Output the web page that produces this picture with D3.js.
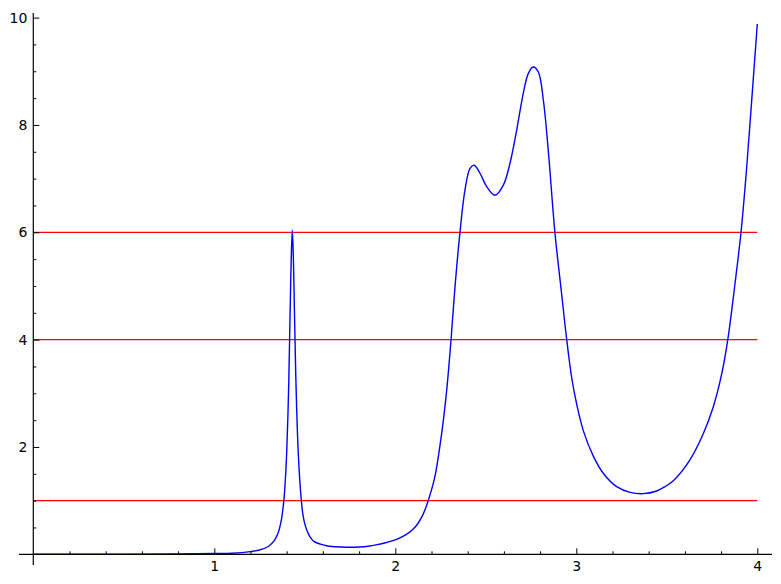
<!DOCTYPE html>
<html>
<head>
<meta charset="utf-8">
<script src="https://cdn.jsdelivr.net/npm/d3@7"></script>
<style>
  html, body { margin: 0; padding: 0; background: #fff; }
  svg { display: block; font-family: "DejaVu Sans", sans-serif; }
</style>
</head>
<body>
<svg id="chart" width="781" height="584"></svg>
<script>
// ---- data ----
const curveX = [0.0, 0.5, 0.8, 1.0, 1.1, 1.2, 1.25, 1.3, 1.33, 1.352, 1.37, 1.383, 1.39, 1.40, 1.41, 1.416, 1.42, 1.425, 1.431, 1.437, 1.442, 1.446, 1.45, 1.46, 1.47, 1.481, 1.49, 1.503, 1.52, 1.53, 1.55, 1.586, 1.62, 1.65, 1.70, 1.75, 1.80, 1.85, 1.90, 1.95, 2.0, 2.05, 2.07, 2.099, 2.12, 2.15, 2.174, 2.20, 2.219, 2.256, 2.284, 2.308, 2.330, 2.357, 2.385, 2.413, 2.436, 2.468, 2.505, 2.551, 2.597, 2.634, 2.671, 2.707, 2.735, 2.761, 2.790, 2.818, 2.845, 2.882, 2.919, 2.947, 2.975, 3.002, 3.039, 3.094, 3.149, 3.223, 3.297, 3.370, 3.444, 3.490, 3.536, 3.628, 3.702, 3.757, 3.804, 3.837, 3.877, 3.910, 3.940, 3.970, 4.0];
const curveY = [0.0, 0.003, 0.008, 0.014, 0.02, 0.05, 0.08, 0.15, 0.25, 0.39, 0.63, 0.96, 1.25, 1.9, 3.0, 4.0, 4.7, 5.5, 6.04, 5.5, 4.65, 4.0, 3.35, 2.2, 1.5, 1.0, 0.73, 0.53, 0.38, 0.32, 0.24, 0.19, 0.16, 0.145, 0.135, 0.13, 0.135, 0.15, 0.18, 0.22, 0.27, 0.35, 0.39, 0.47, 0.55, 0.72, 0.92, 1.2, 1.45, 2.25, 3.06, 4.0, 4.99, 5.99, 6.79, 7.19, 7.25, 7.1, 6.85, 6.69, 6.88, 7.29, 7.91, 8.59, 8.96, 9.08, 8.99, 8.46, 7.53, 5.99, 4.85, 4.0, 3.28, 2.80, 2.30, 1.83, 1.51, 1.26, 1.155, 1.13, 1.18, 1.26, 1.37, 1.76, 2.25, 2.75, 3.37, 4.0, 5.05, 6.0, 7.15, 8.5, 9.88];
const hLines = [1, 4, 6];
const xTickMajor = [1, 2, 3, 4];
const xTickMinor = [0.2, 0.4, 0.6, 0.8, 1.2, 1.4, 1.6, 1.8, 2.2, 2.4, 2.6, 2.8, 3.2, 3.4, 3.6, 3.8];
const yTickMajor = [2, 4, 6, 8, 10];
const yTickMinor = [0.5, 1, 1.5, 2.5, 3, 3.5, 4.5, 5, 5.5, 6.5, 7, 7.5, 8.5, 9, 9.5];

// ---- scales ----
const svg = d3.select("#chart");
const x = d3.scaleLinear().domain([0, 4]).range([33.3, 757.3]);
const y = d3.scaleLinear().domain([0, 10]).range([554.3, 17.6]);

// ---- red horizontal lines ----
svg.append("g").selectAll("line").data(hLines).join("line")
  .attr("x1", x(0)).attr("x2", x(4))
  .attr("y1", d => y(d)).attr("y2", d => y(d))
  .attr("stroke", "#ff0000").attr("stroke-width", 1.2);

// ---- curve ----
const pts = curveX.map((d, i) => [d, curveY[i]]);
svg.append("path").datum(pts)
  .attr("fill", "none").attr("stroke", "#0000ff").attr("stroke-width", 1.4)
  .attr("stroke-linejoin", "round")
  .attr("d", d3.line().x(d => x(d[0])).y(d => y(d[1])).curve(d3.curveCatmullRom.alpha(0.5)));

// ---- axes ----
const fontSize = "14px";
const gx = svg.append("g").attr("transform", `translate(0,${y(0)})`);
gx.call(d3.axisBottom(x).tickValues(xTickMajor).tickSizeInner(-6).tickSizeOuter(0).tickPadding(7).tickFormat(d3.format("d")));
gx.append("g").call(d3.axisBottom(x).tickValues(xTickMinor).tickSizeInner(-3).tickSizeOuter(0).tickFormat(""));
gx.selectAll(".domain").remove();
gx.selectAll("text").attr("font-size", fontSize).attr("font-family", "DejaVu Sans").attr("fill", "#000");

const gy = svg.append("g").attr("transform", `translate(${x(0)},0)`);
gy.call(d3.axisLeft(y).tickValues(yTickMajor).tickSizeInner(-6).tickSizeOuter(0).tickPadding(6).tickFormat(d3.format("d")));
gy.append("g").call(d3.axisLeft(y).tickValues(yTickMinor).tickSizeInner(-3).tickSizeOuter(0).tickFormat(""));
gy.selectAll(".domain").remove();
gy.selectAll("text").attr("font-size", fontSize).attr("font-family", "DejaVu Sans").attr("fill", "#000");

// axis lines
svg.append("line").attr("x1", 19).attr("x2", 772).attr("y1", y(0)).attr("y2", y(0))
  .attr("stroke", "#000").attr("stroke-width", 1.2);
svg.append("line").attr("x1", x(0)).attr("x2", x(0)).attr("y1", 13).attr("y2", 565)
  .attr("stroke", "#000").attr("stroke-width", 1.2);
</script>
</body>
</html>
